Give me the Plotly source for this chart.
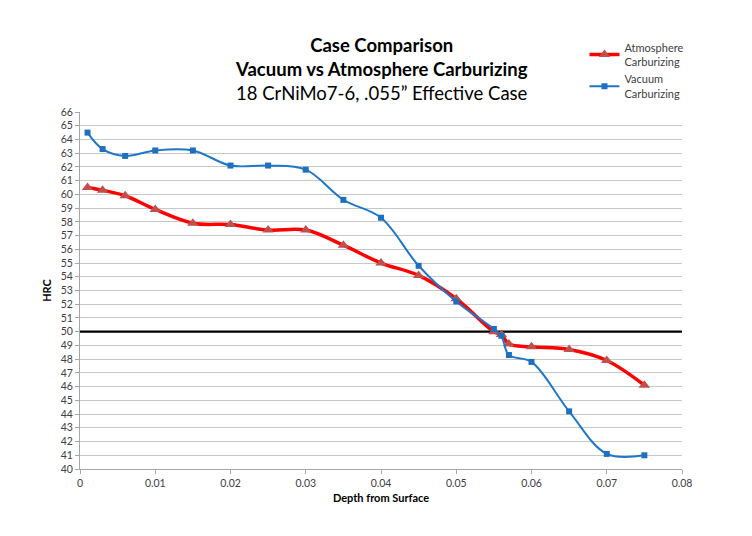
import plotly.graph_objects as go

depth = [0.001, 0.003, 0.006, 0.010, 0.015, 0.020, 0.025, 0.030, 0.035, 0.040,
         0.045, 0.050, 0.055, 0.056, 0.057, 0.060, 0.065, 0.070, 0.075]
atmosphere_hrc = [60.5, 60.3, 59.9, 58.9, 57.9, 57.8, 57.4, 57.4, 56.3, 55.0,
                  54.1, 52.4, 50.0, 49.8, 49.1, 48.9, 48.7, 47.9, 46.1]
vacuum_hrc = [64.5, 63.3, 62.8, 63.2, 63.2, 62.1, 62.1, 61.8, 59.6, 58.3,
              54.8, 52.2, 50.2, 49.7, 48.3, 47.8, 44.2, 41.1, 41.0]
limit_x = [0, 0.08]
limit_hrc = [50, 50]

font = "Lato"

fig = go.Figure()

fig.add_trace(go.Scatter(
    x=limit_x, y=limit_hrc, mode="lines",
    line=dict(color="black", width=2.2),
    showlegend=False, hoverinfo="skip"))

fig.add_trace(go.Scatter(
    x=depth, y=atmosphere_hrc, mode="lines+markers",
    name="Atmosphere<br>Carburizing",
    line=dict(color="#ff0000", width=3.5, shape="spline", smoothing=1.0),
    marker=dict(symbol="triangle-up", size=10, color="#c0504d",
                line=dict(width=0))))

fig.add_trace(go.Scatter(
    x=depth, y=vacuum_hrc, mode="lines+markers",
    name="Vacuum<br>Carburizing",
    line=dict(color="#1f77c9", width=2, shape="spline", smoothing=1.0),
    marker=dict(symbol="square", size=6, color="#1f6fbf",
                line=dict(width=0))))

fig.update_layout(
    width=752, height=536,
    paper_bgcolor="white", plot_bgcolor="white",
    margin=dict(l=72, r=78, t=104, b=75, autoexpand=False),
    font=dict(family=font, size=10.5, color="#404040"),
    title=dict(
        text="<b>Case Comparison</b><br><b>Vacuum vs Atmosphere Carburizing</b><br>"
             "18 CrNiMo7-6, .055\u201d Effective Case",
        x=0.497, xanchor="center", y=0.918, yanchor="top",
        font=dict(family=font, size=18.5, color="black")),
    legend=dict(x=0.838, y=0.952, xref="paper", yref="container",
                xanchor="left", yanchor="top", itemwidth=30,
                font=dict(family=font, size=11, color="#404040"),
                bgcolor="rgba(0,0,0,0)", tracegroupgap=19),
    showlegend=True,
)

fig.update_xaxes(
    range=[0, 0.08], dtick=0.01, tick0=0,
    showgrid=False, zeroline=False,
    showline=True, linecolor="#a6a6a6", linewidth=1,
    ticks="outside", ticklen=4, tickcolor="#a6a6a6",
    title=dict(text="<b>Depth from Surface</b>",
               font=dict(family=font, size=11, color="black"), standoff=6))

fig.update_yaxes(
    range=[40, 66], dtick=1, tick0=40,
    showgrid=True, gridcolor="#c8c8c8", gridwidth=1.2,
    zeroline=False,
    showline=True, linecolor="#a6a6a6", linewidth=1,
    ticks="outside", ticklen=4, tickcolor="#a6a6a6",
    title=dict(text="<b>HRC</b>",
               font=dict(family=font, size=11, color="black"), standoff=6))

fig.write_html("out.html")
